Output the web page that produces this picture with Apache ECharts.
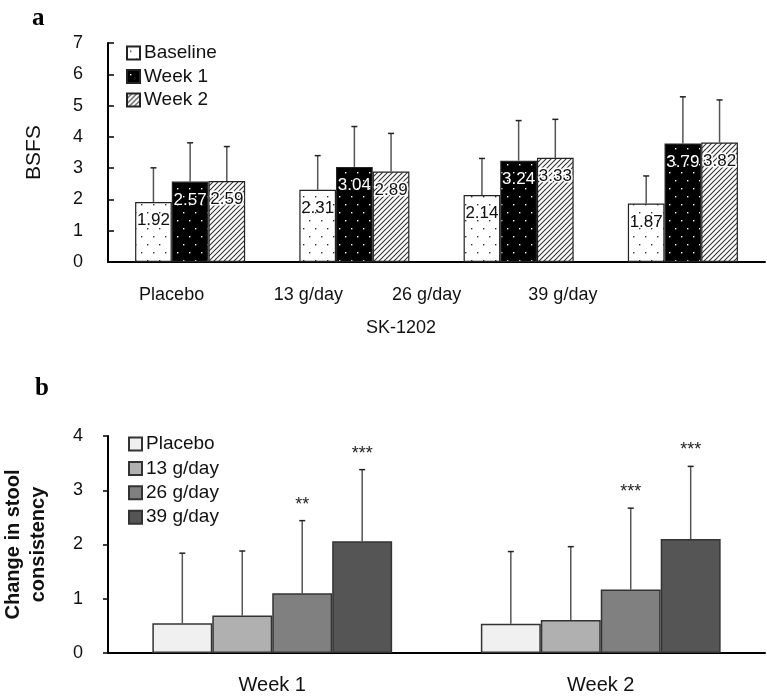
<!DOCTYPE html>
<html>
<head>
<meta charset="utf-8">
<script src="https://cdn.jsdelivr.net/npm/echarts@6/dist/echarts.min.js"></script>
<style>
html,body{margin:0;padding:0;background:#fff;}
#main{width:767px;height:700px;}
</style>
</head>
<body>
<div id="main"></div>
<script>
// ---------- Panel a data ----------
const groupsA = ['Placebo', '13 g/day', '26 g/day', '39 g/day'];
const seriesNamesA = ['Baseline', 'Week 1', 'Week 2'];
const baselineA = [1.92, 2.31, 2.14, 1.87];
const week1A = [2.57, 3.04, 3.24, 3.79];
const week2A = [2.59, 2.89, 3.33, 3.82];
const baselineSdA = [1.09, 1.09, 1.17, 0.88];
const week1SdA = [1.24, 1.29, 1.28, 1.49];
const week2SdA = [1.10, 1.22, 1.23, 1.36];
const yTicksA = [0, 1, 2, 3, 4, 5, 6, 7];
const xNameA = 'SK-1202';
const yNameA = 'BSFS';

// ---------- Panel b data ----------
const weeksB = ['Week 1', 'Week 2'];
const seriesNamesB = ['Placebo', '13 g/day', '26 g/day', '39 g/day'];
const placeboB = [0.55, 0.54];
const g13B = [0.69, 0.61];
const g26B = [1.10, 1.17];
const g39B = [2.06, 2.10];
const placeboSdB = [1.29, 1.33];
const g13SdB = [1.19, 1.35];
const g26SdB = [1.34, 1.50];
const g39SdB = [1.32, 1.34];
const placeboSigB = ['', ''];
const g13SigB = ['', ''];
const g26SigB = ['**', '***'];
const g39SigB = ['***', '***'];
const yTicksB = [0, 1, 2, 3, 4];
const yNameB = 'Change in stool\nconsistency';

// ---------- patterns ----------
function dotPattern(bg, fg) {
  const c = document.createElement('canvas');
  c.width = 12; c.height = 16;
  const ctx = c.getContext('2d');
  ctx.fillStyle = bg; ctx.fillRect(0, 0, 12, 16);
  ctx.fillStyle = fg;
  ctx.fillRect(3, 4, 1.4, 1.4);
  ctx.fillRect(9, 12, 1.4, 1.4);
  return { image: c, repeat: 'repeat' };
}
function hatchPattern() {
  const s = 5;
  const c = document.createElement('canvas');
  c.width = s; c.height = s;
  const ctx = c.getContext('2d');
  ctx.fillStyle = '#fff'; ctx.fillRect(0, 0, s, s);
  ctx.strokeStyle = '#333'; ctx.lineWidth = 1.1;
  ctx.beginPath();
  ctx.moveTo(0, s); ctx.lineTo(s, 0);
  ctx.moveTo(-1, 1); ctx.lineTo(1, -1);
  ctx.moveTo(s - 1, s + 1); ctx.lineTo(s + 1, s - 1);
  ctx.stroke();
  return { image: c, repeat: 'repeat' };
}

const fillsA = [dotPattern('#ffffff', '#333333'), dotPattern('#000000', '#ffffff'), hatchPattern()];
const labelColorsA = ['#111', '#fff', '#111'];
const fillsB = ['#f0f0f0', '#b0b0b0', '#808080', '#555555'];

const GAP_A = 0.33, GAP_B = 0.27;

const valuesA = [baselineA, week1A, week2A];
const sdsA = [baselineSdA, week1SdA, week2SdA];
const valuesB = [placeboB, g13B, g26B, g39B];
const sdsB = [placeboSdB, g13SdB, g26SdB, g39SdB];
const sigsB = [placeboSigB, g13SigB, g26SigB, g39SigB];

// error bar data: [category, seriesIndex, mean, top]
const errA = [], errB = [], starB = [];
valuesA.forEach((arr, s) => arr.forEach((v, c) => errA.push([c, s, v, +(v + sdsA[s][c]).toFixed(2)])));
valuesB.forEach((arr, s) => arr.forEach((v, c) => { errB.push([c, s, v, +(v + sdsB[s][c]).toFixed(2)]); starB.push(sigsB[s][c]); }));

function makeErrRender(gap, n, stars) {
  return function (params, api) {
    const cat = api.value(0), si = api.value(1), mean = api.value(2), top = api.value(3);
    const band = api.size([1, 0])[0];
    const bw = band * (1 - gap) / n;
    const x0 = api.coord([cat, 0])[0];
    const cx = x0 - band * (1 - gap) / 2 + bw * (si + 0.5);
    const yM = api.coord([cat, mean])[1];
    const yT = api.coord([cat, top])[1];
    const children = [
      { type: 'line', shape: { x1: cx, y1: yM, x2: cx, y2: yT }, style: { stroke: '#555', lineWidth: 1.5 } },
      { type: 'line', shape: { x1: cx - 3, y1: yT, x2: cx + 3, y2: yT }, style: { stroke: '#222', lineWidth: 1.5 } }
    ];
    const st = stars ? stars[params.dataIndex] : '';
    if (st) {
      children.push({ type: 'text', style: { text: st, x: cx, y: yT - 16, align: 'center', verticalAlign: 'middle', fontSize: 18, fontFamily: 'Liberation Sans', fill: '#222' } });
    }
    return { type: 'group', children: children };
  };
}

const labelShift = [37, 92, 184, 240];
const richA = {};
labelShift.forEach((p, i) => { richA['p' + i] = { fontSize: 18, fontFamily: 'Liberation Sans', color: '#111', padding: [0, p, 0, 0] }; });

const series = [];
valuesA.forEach((arr, s) => {
  series.push({
    type: 'bar', name: seriesNamesA[s], xAxisIndex: 0, yAxisIndex: 0,
    data: arr, barGap: '0%', barCategoryGap: (GAP_A * 100) + '%',
    itemStyle: { color: fillsA[s], borderColor: '#222', borderWidth: 1.2 },
    label: { show: true, position: 'insideTop', distance: 10, fontSize: 17, fontFamily: 'Liberation Sans',
      color: labelColorsA[s], textBorderColor: s === 2 ? '#fff' : 'transparent', textBorderWidth: s === 2 ? 3 : 0,
      formatter: p => p.value.toFixed(2) },
    z: 2
  });
});
series.push({
  type: 'custom', name: 'errA', xAxisIndex: 0, yAxisIndex: 0, data: errA,
  encode: { x: 0, y: 3 }, renderItem: makeErrRender(GAP_A, 3, null), z: 1, silent: true
});
valuesB.forEach((arr, s) => {
  series.push({
    type: 'bar', name: seriesNamesB[s], xAxisIndex: 1, yAxisIndex: 1,
    data: arr, barGap: '0%', barCategoryGap: (GAP_B * 100) + '%',
    itemStyle: { color: fillsB[s], borderColor: '#333', borderWidth: 1.5 },
    z: 2
  });
});
series.push({
  type: 'custom', name: 'errB', xAxisIndex: 1, yAxisIndex: 1, data: errB,
  encode: { x: 0, y: 3 }, renderItem: makeErrRender(GAP_B, 4, starB), z: 1, silent: true
});

const axisFont = { fontSize: 18, fontFamily: 'Liberation Sans', color: '#111' };

const option = {
  animation: false,
  backgroundColor: '#fff',
  textStyle: { fontFamily: 'Liberation Sans' },
  graphic: [
    { type: 'text', left: 32, top: 6, style: { text: 'a', font: 'bold 25px "Liberation Serif"', fill: '#000' } },
    { type: 'text', left: 35, top: 376, style: { text: 'b', font: 'bold 25px "Liberation Serif"', fill: '#000' } }
  ],
  legend: [
    { data: seriesNamesA, orient: 'vertical', left: 126, top: 43.5, padding: 0, itemWidth: 13, itemHeight: 13, itemGap: 4.5,
      textStyle: { fontSize: 19, fontFamily: 'Liberation Sans', color: '#111', padding: [0, 0, 0, -1] }, selectedMode: false, icon: 'rect' },
    { data: seriesNamesB, orient: 'vertical', left: 128, top: 434.5, padding: 0, itemWidth: 13, itemHeight: 13, itemGap: 5.4,
      textStyle: { fontSize: 19, fontFamily: 'Liberation Sans', color: '#111', padding: [0, 0, 0, -1] }, selectedMode: false, icon: 'rect' }
  ],
  grid: [
    { left: 108, right: 2, top: 43, height: 219, outerBoundsMode: 'none', containLabel: false },
    { left: 108, right: 2, top: 436, height: 217, outerBoundsMode: 'none', containLabel: false }
  ],
  xAxis: [
    { type: 'category', gridIndex: 0, data: groupsA,
      axisLine: { lineStyle: { color: '#000', width: 2 } }, axisTick: { show: false },
      axisLabel: { margin: 24, formatter: (v, i) => '{p' + i + '|' + v + '}', rich: richA },
      name: xNameA, nameLocation: 'middle', nameGap: 57,
      nameTextStyle: { fontSize: 18, fontFamily: 'Liberation Sans', color: '#111', padding: [0, 71, 0, 0] } },
    { type: 'category', gridIndex: 1, data: weeksB,
      axisLine: { lineStyle: { color: '#000', width: 2 } }, axisTick: { show: false },
      axisLabel: { margin: 22, fontSize: 20, fontFamily: 'Liberation Sans', color: '#111' } }
  ],
  yAxis: [
    { type: 'value', gridIndex: 0, min: yTicksA[0], max: yTicksA[yTicksA.length - 1], interval: 1,
      axisLine: { show: true, lineStyle: { color: '#000', width: 2 } },
      axisTick: { show: true, inside: true, length: 6, lineStyle: { color: '#000', width: 1.5 } },
      splitLine: { show: false },
      axisLabel: Object.assign({ margin: 25 }, axisFont),
      name: yNameA, nameLocation: 'middle', nameGap: 63,
      nameTextStyle: { fontSize: 21, fontFamily: 'Liberation Sans', color: '#111' } },
    { type: 'value', gridIndex: 1, min: yTicksB[0], max: yTicksB[yTicksB.length - 1], interval: 1,
      axisLine: { show: true, lineStyle: { color: '#000', width: 2 } },
      axisTick: { show: true, inside: false, length: 5, lineStyle: { color: '#000', width: 1.5 } },
      splitLine: { show: false },
      axisLabel: Object.assign({ margin: 25 }, axisFont),
      name: yNameB, nameLocation: 'middle', nameGap: 57,
      nameTextStyle: { fontSize: 20, fontWeight: 'bold', fontFamily: 'Liberation Sans', color: '#111', lineHeight: 25, align: 'center' } }
  ],
  series: series
};

const chart = echarts.init(document.getElementById('main'), null, { renderer: 'canvas' });
chart.setOption(option);
</script>
</body>
</html>
